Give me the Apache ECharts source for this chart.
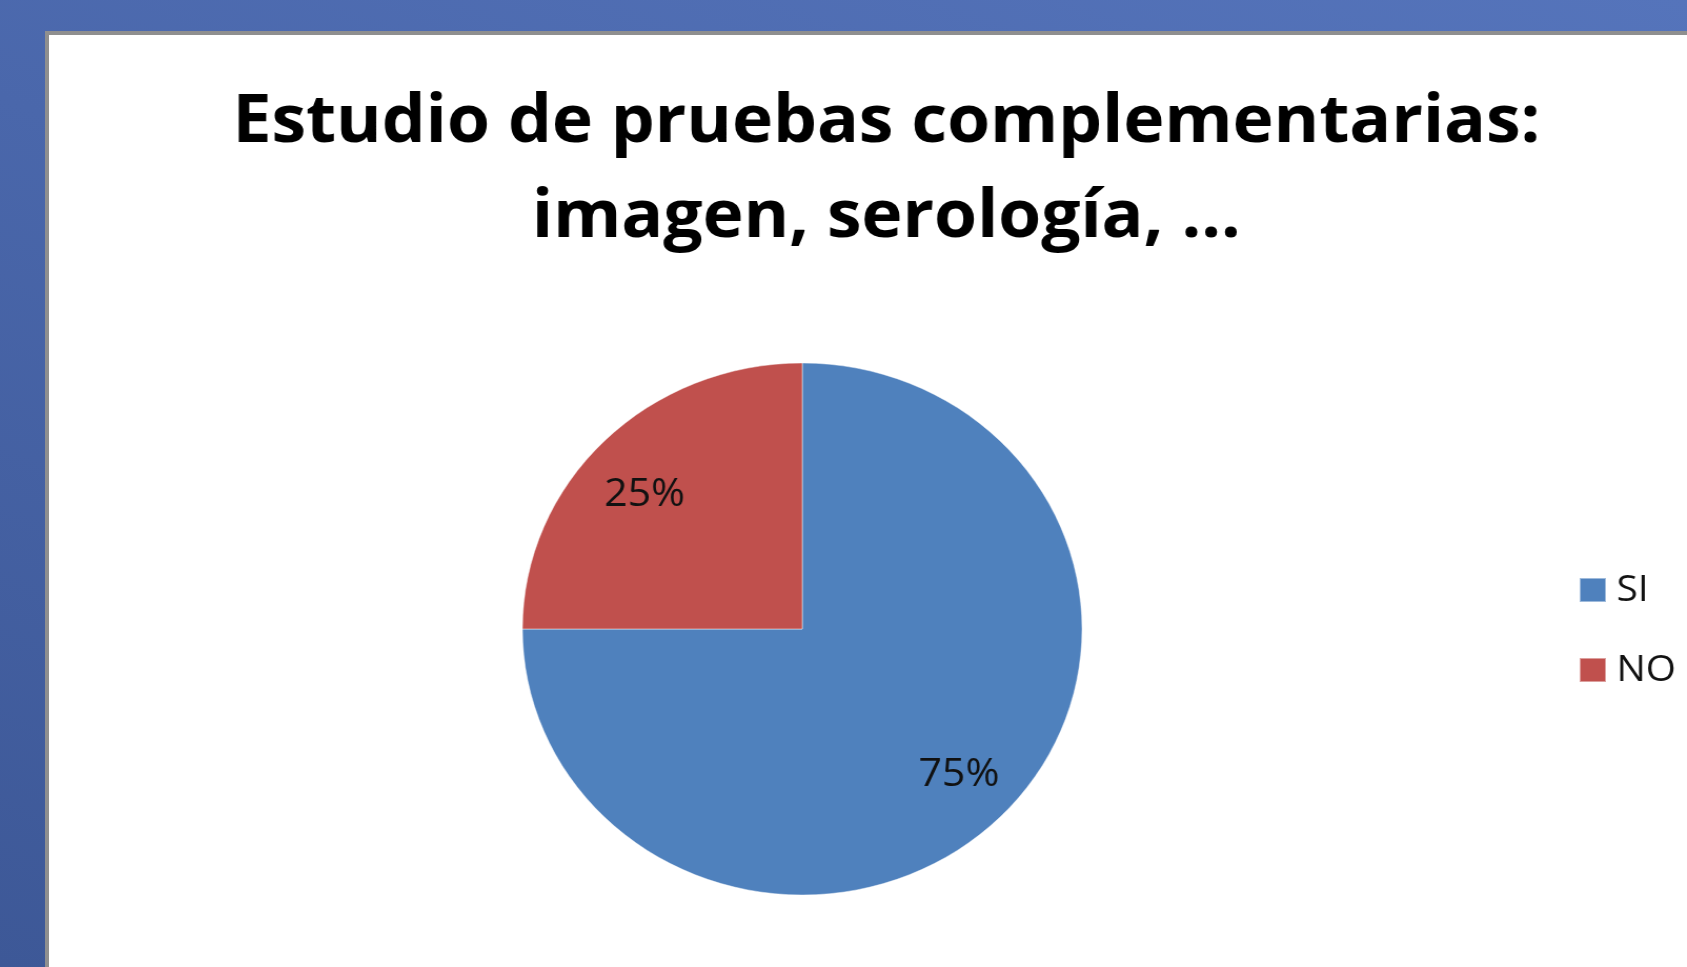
<!DOCTYPE html>
<html>
<head>
<meta charset="utf-8">
<title>Estudio de pruebas complementarias</title>
<script src="https://cdn.jsdelivr.net/npm/echarts@6/dist/echarts.min.js"></script>
<style>
  html, body { margin: 0; width: 1687px; height: 967px; overflow: hidden; }
  body { background: linear-gradient(200deg, #5574bb 0%, #4a67ab 45%, #3d5897 100%); }
  .panel {
    position: absolute; left: 45px; top: 31px; right: 0; bottom: 0;
    background: #fff;
    border-left: 4px solid #8f8f8f;
    border-top: 4px solid #8f8f8f;
  }
  /* the original slide is stretched a little wider than tall */
  #chart {
    position: absolute; left: 0; top: 0;
    width: 1557px; height: 932px;
    transform: scaleX(1.052); transform-origin: 0 0;
  }
</style>
</head>
<body>
<div class="panel"><div id="chart"></div></div>
<script>
const titleLines = ['Estudio de pruebas complementarias:', 'imagen, serología, ...']
const categories = ['SI', 'NO']
const values = [75, 25]

const palette = ['#4F81BD', '#C0504D']
const pieCenter = [716, 594]
const pieRadius = 266

const pieData = categories.map((name, i) => ({ name, value: values[i] }))

const chart = echarts.init(document.getElementById('chart'), null, { renderer: 'canvas' })
chart.setOption({
  animation: false,
  color: palette,
  title: {
    text: titleLines.join('\n'),
    left: 796,
    top: 41,
    padding: 0,
    textAlign: 'center',
    textStyle: {
      fontFamily: "'Open Sans', sans-serif",
      fontWeight: 'bold',
      fontSize: 66,
      lineHeight: 95,
      color: '#000',
    },
  },
  legend: {
    orient: 'vertical',
    left: 1454,
    top: 535,
    padding: 0,
    icon: 'rect',
    itemWidth: 25,
    itemHeight: 24,
    itemGap: 40,
    selectedMode: false,
    textStyle: {
      fontFamily: "'Open Sans', sans-serif",
      fontSize: 37,
      lineHeight: 40,
      color: '#111',
      padding: [0, 0, 0, 5],
    },
    data: categories,
  },
  series: [
    {
      name: 'main',
      type: 'pie',
      center: pieCenter,
      radius: pieRadius,
      startAngle: 90,
      clockwise: true,
      silent: true,
      itemStyle: { borderColor: 'rgba(255,255,255,0.45)', borderWidth: 1 },
      label: { show: false },
      labelLine: { show: false },
      data: pieData,
    },
    {
      // transparent ring only used to place the percent labels at ~0.77 r
      name: 'labels',
      type: 'pie',
      center: pieCenter,
      radius: [pieRadius * 0.54, pieRadius],
      startAngle: 90,
      clockwise: true,
      silent: true,
      itemStyle: { color: 'rgba(0,0,0,0)' },
      label: {
        show: true,
        position: 'inside',
        rotate: 0,
        formatter: '{d}%',
        fontFamily: "'Open Sans', sans-serif",
        fontSize: 39,
        color: '#111',
      },
      labelLayout: (p) => (p.dataIndex === 1 ? { dx: -3, dy: 13 } : { dx: 2, dy: -1 }),
      labelLine: { show: false },
      data: pieData,
    },
  ],
})
</script>
</body>
</html>
